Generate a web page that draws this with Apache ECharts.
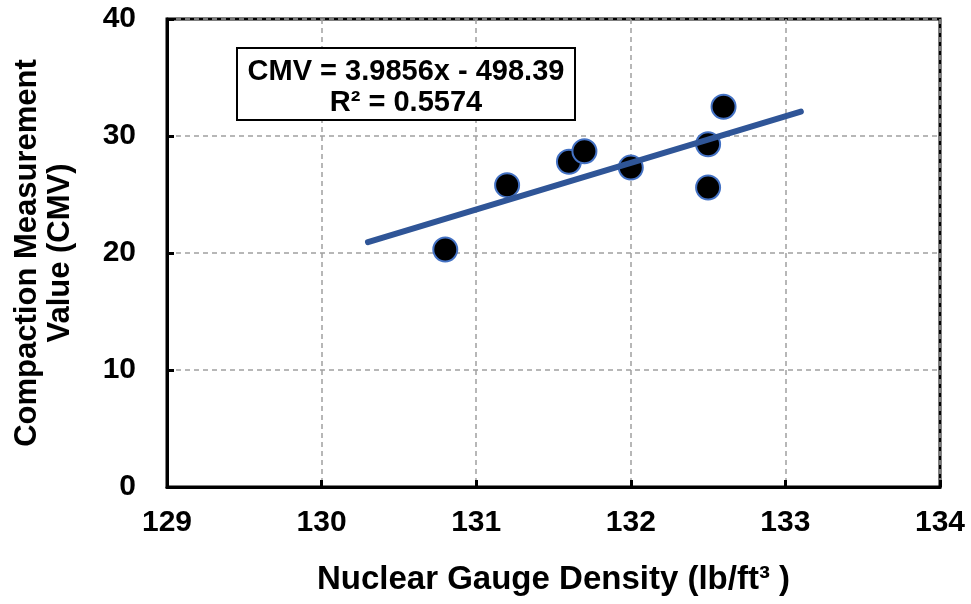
<!DOCTYPE html>
<html>
<head>
<meta charset="utf-8">
<script src="https://cdn.jsdelivr.net/npm/echarts@6/dist/echarts.min.js"></script>
<style>html,body{margin:0;padding:0;background:#fff}#c{width:971px;height:604px}</style>
</head>
<body>
<div id="c"></div>
<script>
// Measured points
var densityX = [130.8, 131.2, 131.6, 131.7, 132.0, 132.5, 132.5, 132.6];
var cmvY = [20.3, 25.8, 27.8, 28.7, 27.3, 29.3, 25.6, 32.5];
// Trendline endpoints (as drawn)
var trendX = [130.3, 133.1];
var trendY = [20.93, 32.09];
var xTicks = [129, 130, 131, 132, 133, 134];
var yTicks = [0, 10, 20, 30, 40];
var eqLine1 = 'CMV = 3.9856x - 498.39';
var eqLine2 = 'R² = 0.5574';

var font = 'Liberation Sans, Arial, sans-serif';
var chart = echarts.init(document.getElementById('c'), null, {renderer: 'canvas'});
var gridLine = {show: true, lineStyle: {color: '#A0A0A0', width: 1.5, type: [5, 4]}};
chart.setOption({
  animation: false,
  backgroundColor: '#fff',
  grid: {left: 167, right: 31, top: 19, bottom: 117, show: true, borderColor: '#000', borderWidth: 3,
         backgroundColor: 'transparent', containLabel: false, outerBoundsMode: 'none'},
  xAxis: {
    type: 'value', min: xTicks[0], max: xTicks[xTicks.length - 1], interval: 1,
    name: 'Nuclear Gauge Density (lb/ft³ )', nameLocation: 'middle', nameGap: 76,
    nameTextStyle: {fontFamily: font, fontWeight: 'bold', fontSize: 33, color: '#000'},
    axisLine: {show: true, lineStyle: {color: '#000', width: 3}},
    axisTick: {show: true, inside: true, length: 7, lineStyle: {color: '#000', width: 3}},
    axisLabel: {fontFamily: font, fontWeight: 'bold', fontSize: 30, color: '#000', margin: 21},
    splitLine: gridLine
  },
  yAxis: {
    type: 'value', min: yTicks[0], max: yTicks[yTicks.length - 1], interval: 10,
    name: 'Compaction Measurement\nValue (CMV)', nameLocation: 'middle', nameGap: 90, nameRotate: 90,
    nameTextStyle: {fontFamily: font, fontWeight: 'bold', fontSize: 31, color: '#000', lineHeight: 33},
    axisLine: {show: true, lineStyle: {color: '#000', width: 3}},
    axisTick: {show: true, inside: true, length: 7, lineStyle: {color: '#000', width: 3}},
    axisLabel: {fontFamily: font, fontWeight: 'bold', fontSize: 30, color: '#000', margin: 31},
    splitLine: gridLine
  },
  series: [
    {
      type: 'scatter', z: 2,
      data: densityX.map(function (x, i) { return [x, cmvY[i]]; }),
      symbol: 'circle', symbolSize: 24,
      itemStyle: {color: '#000', borderColor: '#4472C4', borderWidth: 2, opacity: 1}
    },
    {
      type: 'line', z: 3,
      data: trendX.map(function (x, i) { return [x, trendY[i]]; }),
      showSymbol: false, symbol: 'none',
      lineStyle: {color: '#2F5597', width: 6, cap: 'round'}
    }
  ],
  graphic: [
    {type: 'rect', shape: {x: 237, y: 48, width: 338, height: 72}, style: {fill: '#fff', stroke: '#000', lineWidth: 2}, z: 10},
    {type: 'text', style: {x: 406, y: 72, text: eqLine1, font: 'bold 29px ' + font, fill: '#000', align: 'center', verticalAlign: 'middle'}, z: 11},
    {type: 'text', style: {x: 406, y: 103, text: eqLine2, font: 'bold 29px ' + font, fill: '#000', align: 'center', verticalAlign: 'middle'}, z: 11}
  ]
});
</script>
</body>
</html>
